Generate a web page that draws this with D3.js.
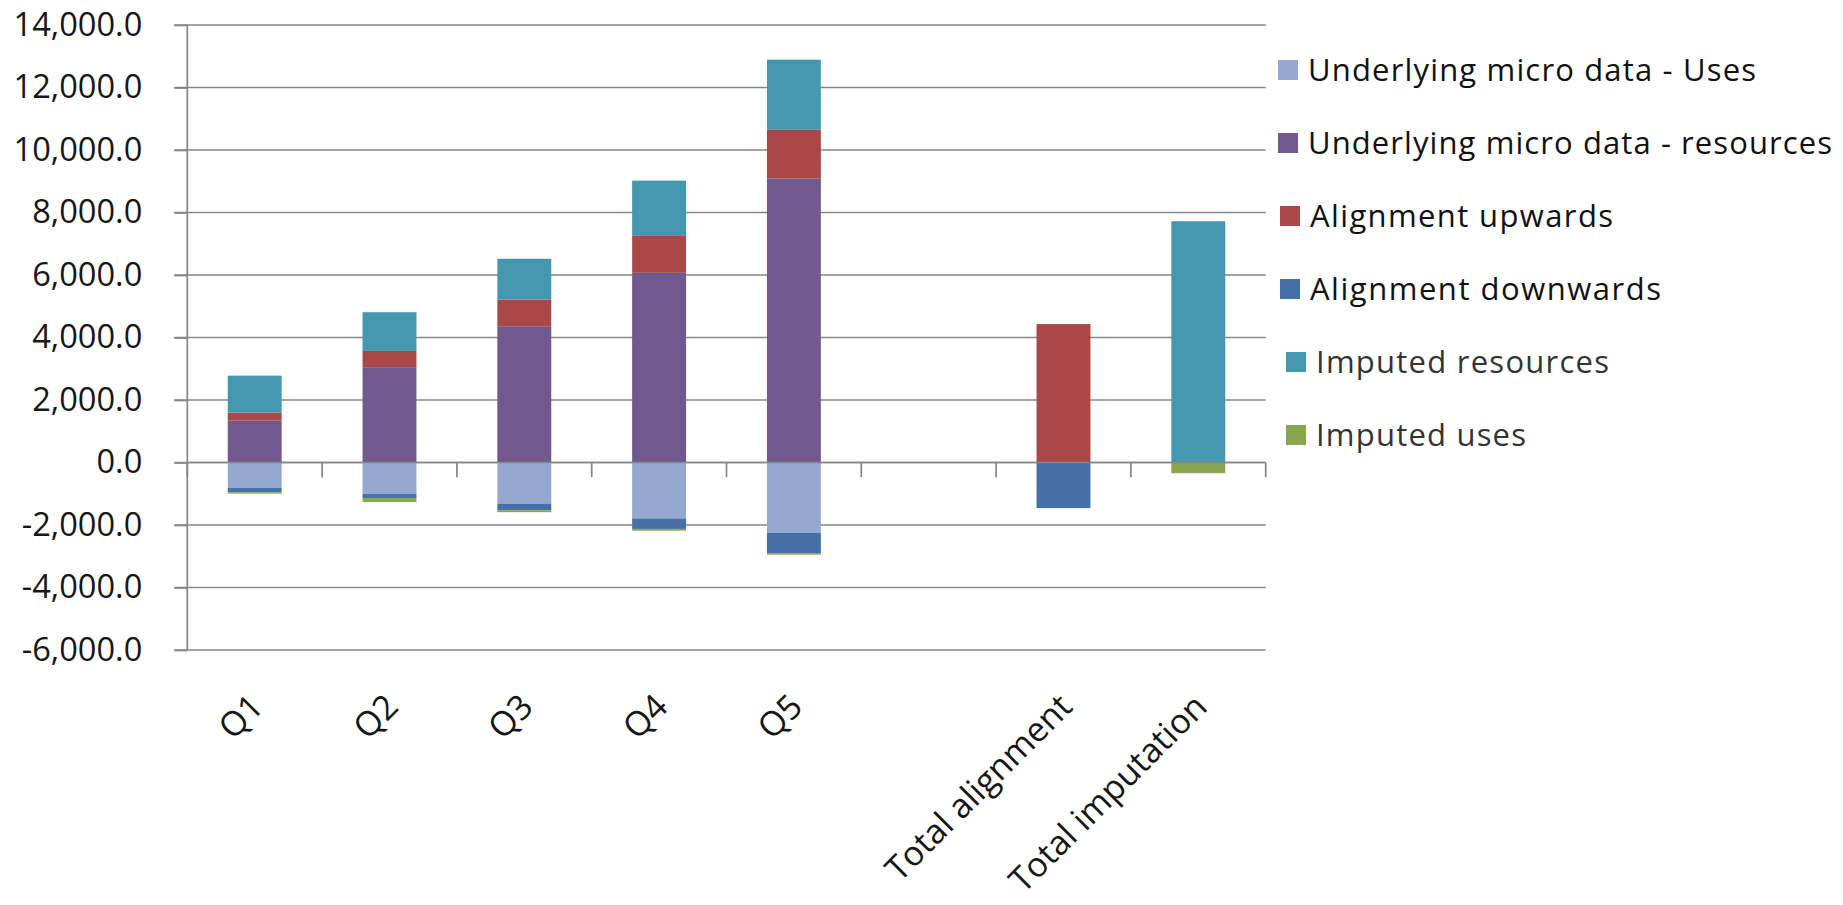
<!DOCTYPE html>
<html><head><meta charset="utf-8">
<script src="https://cdn.jsdelivr.net/npm/d3@7"></script>
<style>html,body{margin:0;padding:0;background:#fff;} svg{display:block;}</style>
</head><body>
<svg id="chart" width="1843" height="905"></svg>
<script>
// ---- data ----
const categories = ["Q1", "Q2", "Q3", "Q4", "Q5", "", "Total alignment", "Total imputation"];
const seriesNames = [
  "Underlying micro data - Uses",
  "Underlying micro data - resources",
  "Alignment upwards",
  "Alignment downwards",
  "Imputed resources",
  "Imputed uses"
];
const microUses      = [-815, -1000, -1315, -1790, -2250, 0, 0, 0];
const microResources = [1340, 3050, 4360, 6070, 9090, 0, 0, 0];
const alignUp        = [260, 520, 850, 1180, 1570, 0, 4430, 0];
const alignDown      = [-135, -138, -212, -335, -650, 0, -1460, 0];
const imputedRes     = [1180, 1240, 1310, 1770, 2230, 0, 0, 7720];
const imputedUses    = [-48, -128, -62, -55, -50, 0, 0, -343];
const yTicks = [-6000, -4000, -2000, 0, 2000, 4000, 6000, 8000, 10000, 12000, 14000];
const colors = ["#94A8D0", "#71588E", "#A94846", "#4571A6", "#4398B0", "#8AA54F"];

// ---- build table ----
const seriesValues = [microUses, microResources, alignUp, alignDown, imputedRes, imputedUses];
const table = categories.map((c, i) => {
  const row = {cat: c};
  seriesNames.forEach((s, k) => row[s] = seriesValues[k][i]);
  return row;
});

const svg = d3.select("#chart");
const plotLeft = 187.3, plotRight = 1265.7, plotTop = 25, plotBottom = 650;

const x = d3.scaleBand().domain(categories).range([plotLeft, plotRight]).paddingInner(0.6).paddingOuter(0.3);
const y = d3.scaleLinear().domain([-6000, 14000]).range([plotBottom, plotTop]);

const gridColor = "#868686";

// gridlines
svg.append("g").selectAll("line").data(yTicks).join("line")
  .attr("x1", plotLeft - 13).attr("x2", plotRight)
  .attr("y1", d => y(d)).attr("y2", d => y(d))
  .attr("stroke", gridColor).attr("stroke-width", 1.7);

// y axis
const yAxis = d3.axisLeft(y).tickValues(yTicks)
  .tickFormat(d => d3.format(",.1f")(d).replace("\u2212", "-"))
  .tickSize(13).tickPadding(32);
const gy = svg.append("g").attr("transform", `translate(${plotLeft},0)`).call(yAxis);
gy.select(".domain").attr("stroke", gridColor).attr("stroke-width", 1.7).attr("d", `M0,${plotTop}V${plotBottom}`);
gy.selectAll(".tick line").attr("stroke", gridColor).attr("stroke-width", 1.7);
gy.selectAll(".tick text").attr("font-family", "'Open Sans', sans-serif").attr("font-size", 32.6)
  .attr("fill", "#161616");

// stacked bars
const stack = d3.stack().keys(seriesNames).offset(d3.stackOffsetDiverging);
const stacked = stack(table);
svg.append("g").selectAll("g").data(stacked).join("g")
  .attr("fill", (d, i) => colors[i])
  .selectAll("rect").data(d => d).join("rect")
  .attr("x", d => x(d.data.cat))
  .attr("width", x.bandwidth())
  .attr("y", d => y(Math.max(d[0], d[1])))
  .attr("height", d => Math.abs(y(d[0]) - y(d[1])));

// category axis at zero with ticks between categories
const bounds = categories.map(c => x(c) - x.step() * x.paddingOuter()).concat([plotRight]);
svg.append("g").selectAll("line").data(bounds).join("line")
  .attr("x1", d => d).attr("x2", d => d)
  .attr("y1", y(0)).attr("y2", y(0) + 14.7)
  .attr("stroke", gridColor).attr("stroke-width", 1.7);
svg.append("line").attr("x1", plotLeft).attr("x2", plotRight).attr("y1", y(0)).attr("y2", y(0))
  .attr("stroke", gridColor).attr("stroke-width", 1.7);

// category labels (rotated, below plot)
svg.append("g").selectAll("text").data(categories).join("text")
  .attr("transform", d => `translate(${x(d) + x.bandwidth() / 2 + 2},700) rotate(-45)`)
  .attr("text-anchor", "end").attr("dy", "0.36em")
  .attr("font-family", "'Open Sans', sans-serif").attr("font-size", 34)
  .attr("fill", "#161616")
  .text(d => d);

// legend
const legendWidths = [448, 524, 303, 351, 293, 210];
const lg = svg.append("g").selectAll("g").data(seriesNames).join("g")
  .attr("transform", (d, i) => `translate(${1278 + (i >= 4 ? 8 : i >= 2 ? 2 : 0)},${70 + i * 73})`);
lg.append("rect").attr("x", 0).attr("y", -10).attr("width", 20).attr("height", 20)
  .attr("fill", (d, i) => colors[i]);
lg.append("text").attr("x", 30).attr("dy", "0.36em")
  .attr("font-family", "'Open Sans', sans-serif").attr("font-size", 31)
  .attr("fill", (d, i) => i >= 4 ? "#333" : "#111")
  .attr("textLength", (d, i) => legendWidths[i]).attr("lengthAdjust", "spacing")
  .text(d => d);
</script>
</body></html>
